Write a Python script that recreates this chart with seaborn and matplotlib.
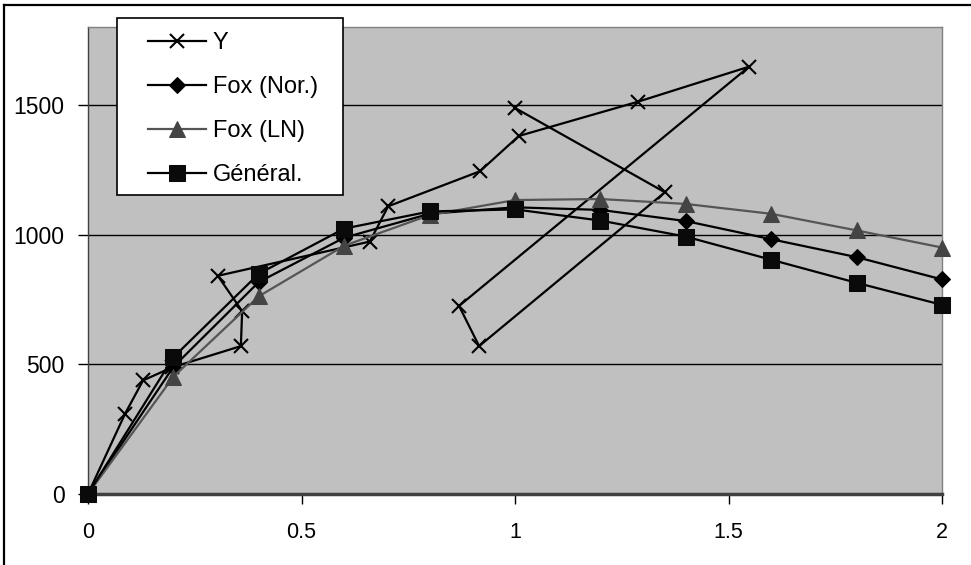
import matplotlib
matplotlib.use('Agg')
import matplotlib.pyplot as plt
import seaborn as sns
import pandas as pd
from matplotlib.patches import Rectangle
from matplotlib.lines import Line2D

# ---- data ----
y_x = [0, 0.087, 0.129, 0.197, 0.358, 0.361, 0.304, 0.660, 0.703, 0.918,
       1.009, 1.288, 1.548, 0.869, 0.916, 1.351, 1.0]
y_v = [0, 310, 438, 488, 570, 705, 841, 973, 1109, 1244,
       1380, 1512, 1647, 725, 570, 1163, 1488]

fox_x = [0, 0.2, 0.4, 0.6, 0.8, 1.0, 1.2, 1.4, 1.6, 1.8, 2.0]
fox_nor = [0, 490, 817, 988, 1080, 1105, 1095, 1052, 982, 913, 827]
fox_ln = [0, 452, 762, 957, 1075, 1133, 1137, 1118, 1080, 1016, 950]
general = [0, 527, 849, 1023, 1089, 1097, 1054, 992, 903, 814, 729]

series_labels = ['Y', 'Fox (Nor.)', 'Fox (LN)', 'Général.']
x_ticks = [0, 0.5, 1, 1.5, 2]
x_tick_labels = ['0', '0.5', '1', '1.5', '2']
y_ticks = [0, 500, 1000, 1500]
y_tick_labels = ['0', '500', '1000', '1500']

plt.rcParams['font.family'] = ['Liberation Sans', 'DejaVu Sans']

W, H = 971, 565
fig = plt.figure(figsize=(W / 100, H / 100), dpi=100)
fig.patch.set_facecolor('white')
ax = fig.add_axes([88 / W, 1 - 494 / H, (942 - 88) / W, (494 - 27) / H])
ax.set_facecolor('#c0c0c0')

df_y = pd.DataFrame({'x': y_x, 'v': y_v})
df_f = pd.DataFrame({'x': fox_x, 'nor': fox_nor, 'ln': fox_ln, 'gen': general})

lw = 1.6
sns.lineplot(data=df_y, x='x', y='v', sort=False, estimator=None, ax=ax,
             color='black', lw=lw, marker='x', markersize=10, mew=1.5,
             mec='black', label=series_labels[0], clip_on=False, zorder=3)
sns.lineplot(data=df_f, x='x', y='nor', sort=False, estimator=None, ax=ax,
             color='black', lw=lw, marker='D', markersize=8.5,
             mec='black', mfc='black', label=series_labels[1], clip_on=False, zorder=4)
sns.lineplot(data=df_f, x='x', y='ln', sort=False, estimator=None, ax=ax,
             color='#555555', lw=lw, marker='^', markersize=12,
             mec='#444444', mfc='#444444', label=series_labels[2], clip_on=False, zorder=5)
sns.lineplot(data=df_f, x='x', y='gen', sort=False, estimator=None, ax=ax,
             color='black', lw=lw, marker='s', markersize=11,
             mec='#0a0a0a', mfc='#0a0a0a', label=series_labels[3], clip_on=False, zorder=6)

handles, labels = ax.get_legend_handles_labels()
if ax.get_legend() is not None:
    ax.get_legend().remove()

ax.set_xlim(0, 2)
ax.set_ylim(0, 1800)
ax.set_xticks(x_ticks)
ax.set_xticklabels(x_tick_labels)
ax.set_yticks(y_ticks)
ax.set_yticklabels(y_tick_labels)
ax.set_xlabel('')
ax.set_ylabel('')
ax.tick_params(axis='x', direction='out', length=7, width=1, colors='black',
               labelsize=15.5, pad=13)
ax.tick_params(axis='y', direction='out', length=7, width=1, colors='black',
               labelsize=16.5, pad=10)
ax.yaxis.grid(True, color='black', lw=1)
ax.xaxis.grid(False)
ax.set_axisbelow(True)
for s in ['top', 'right']:
    ax.spines[s].set_color('#808080')
    ax.spines[s].set_linewidth(1)
ax.spines['left'].set_color('#404040')
ax.spines['left'].set_linewidth(1)
ax.spines['bottom'].set_color('#404040')
ax.spines['bottom'].set_linewidth(2.5)

# legend box
fig.add_artist(Rectangle((117 / W, 1 - 195 / H), (343 - 117) / W, (195 - 18) / H,
                         transform=fig.transFigure, facecolor='white',
                         edgecolor='black', lw=1.2, zorder=4))
fig.legend(handles, labels, loc='upper left', bbox_to_anchor=(148 / W, 1 - 32 / H),
           bbox_transform=fig.transFigure, frameon=False, borderpad=0,
           borderaxespad=0, fontsize=17, handlelength=2.45, handletextpad=0.3,
           labelspacing=0.93).set_zorder(5)

# figure border (top and left)
fig.add_artist(Line2D([4 / W, 4 / W], [0, 1 - 5 / H], transform=fig.transFigure,
                      color='black', lw=1.6))
fig.add_artist(Line2D([4 / W, 1], [1 - 5 / H, 1 - 5 / H], transform=fig.transFigure,
                      color='black', lw=1.6))

fig.savefig('out.png', dpi=100)
